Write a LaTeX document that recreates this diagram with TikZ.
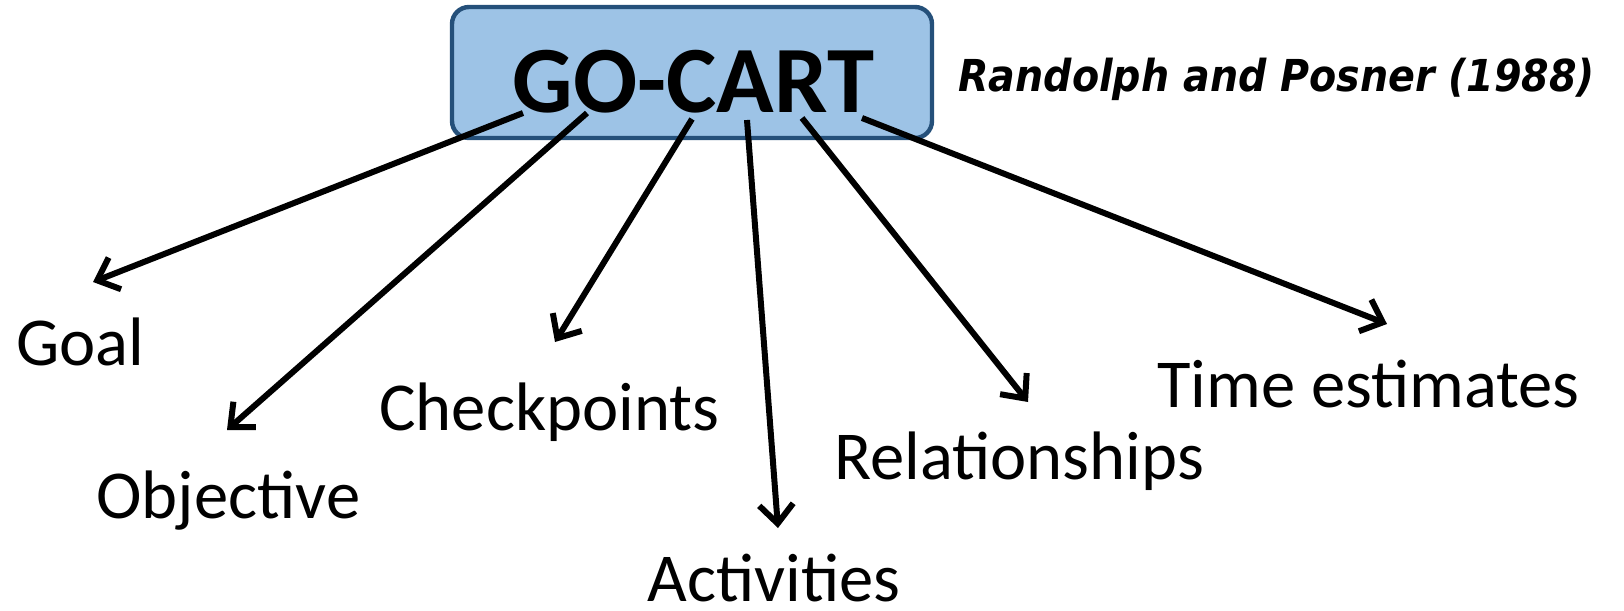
\documentclass[tikz,border=0pt]{standalone}
\usepackage{fontspec}
\setmainfont{Carlito}
\newfontfamily\citefont{DejaVu Sans}
\usetikzlibrary{positioning,arrows.meta}
\definecolor{boxblue}{HTML}{9DC3E6}
\definecolor{boxline}{HTML}{25507A}

\begin{document}
\begin{tikzpicture}[
    x=0.5pt, y=-0.5pt,
    titlebox/.style={draw=boxline, fill=boxblue, line width=2.2pt, rounded corners=8.5pt, minimum width=240pt, minimum height=65.5pt},
    itemtext/.style={anchor=base west, inner sep=0pt, font=\fontsize{34.3}{34.3}\selectfont},
    pointer/.style={line width=3pt, -{Straight Barb[length=9.5pt,width=17pt]}},
]
    \useasboundingbox (0,0) rectangle (1624,611);

    %node
    \node[titlebox] (box) at (692,72.5) {};
    \node[anchor=base, inner sep=0pt, font=\fontsize{47.5}{47.5}\selectfont\bfseries] (title) at (693.5,112) {GO-CART};
    \node[anchor=base west, inner sep=0pt, font=\citefont\bfseries\itshape\fontsize{22}{22}\selectfont] (cite) at (958,91) {\scalebox{0.9}[1]{Randolph and Posner (1988)}};

    \node[itemtext] (goal) at (16,365) {Goal};
    \node[itemtext] (objective) at (96,518) {Objective};
    \node[itemtext] (checkpoints) at (379,430) {Checkpoints};
    \node[itemtext] (activities) at (647,601) {Activities};
    \node[itemtext] (relationships) at (834,479) {Relationships};
    \node[itemtext] (time) at (1157,407) {Time estimates};

    %ends
    \coordinate (g1) at (523,113);
    \coordinate (g2) at (587,113);
    \coordinate (g3) at (692,119);
    \coordinate (g4) at (747,120);
    \coordinate (g5) at (802,118);
    \coordinate (g6) at (862,118);
    \coordinate (t1) at (93,282);
    \coordinate (t2) at (227,430);
    \coordinate (t3) at (555,342);
    \coordinate (t4) at (778,528);
    \coordinate (t5) at (1028,402);
    \coordinate (t6) at (1387,324);

    %lines
    \draw[pointer] (g1) -- (t1);
    \draw[pointer] (g2) -- (t2);
    \draw[pointer] (g3) -- (t3);
    \draw[pointer] (g4) -- (t4);
    \draw[pointer] (g5) -- (t5);
    \draw[pointer] (g6) -- (t6);
\end{tikzpicture}
\end{document}
